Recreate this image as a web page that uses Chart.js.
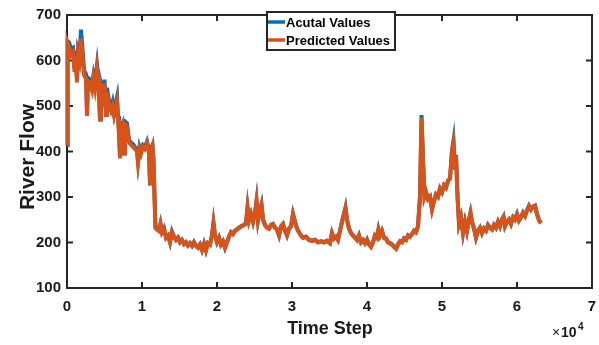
<!DOCTYPE html>
<html>
<head>
<meta charset="utf-8">
<script src="https://cdn.jsdelivr.net/npm/chart.js@4.4.0/dist/chart.umd.min.js"></script>
<style>
	html,body{margin:0;padding:0;background:#fff;}
	canvas{display:block;}
</style>
</head>
<body>
<canvas id="mycanvas" width="599" height="345"></canvas>
<script>
// time step of each reading (axis shows it in units of 10^4)
var timeStep=[
	0,80,270,530,800,1000,1130,1330,1470,1670,
	1870,2070,2270,2530,2670,2800,3070,3330,3530,3730,
	4000,4200,4400,4530,4800,5000,5200,5330,5600,5870,
	6070,6270,6470,6670,6800,6930,7070,7200,7400,7600,
	7730,8000,8270,8530,8800,9070,9330,9470,9670,9870,
	10130,10400,10670,10930,11070,11200,11400,11530,11670,11800,
	12000,12270,12470,12670,12930,13200,13470,13730,14000,14270,
	14530,14800,15070,15330,15600,15870,16130,16400,16670,16930,
	17200,17470,17730,18000,18270,18530,18800,19070,19330,19530,
	19730,20000,20270,20530,20800,21070,21330,21600,21870,22130,
	22400,22800,23200,23600,23870,24070,24270,24530,24800,25070,
	25270,25470,25730,25930,26130,26400,26670,26930,27200,27470,
	27730,28000,28270,28530,28800,29070,29330,29600,29870,30130,
	30400,30670,30930,31200,31470,31870,32270,32670,33070,33470,
	33870,34270,34670,35070,35330,35600,35870,36130,36400,36670,
	36930,37130,37330,37600,37870,38130,38400,38670,38930,39200,
	39470,39730,40000,40270,40530,40800,41070,41330,41530,41730,
	42000,42270,42530,42800,43070,43330,43600,43870,44130,44400,
	44670,44930,45200,45470,45730,46000,46270,46530,46800,47070,
	47270,47470,47670,47870,48130,48400,48670,48930,49200,49470,
	49730,50000,50270,50530,50800,51070,51330,51530,51730,51870,
	52070,52270,52530,52800,53070,53330,53600,53800,54000,54270,
	54530,54800,55070,55330,55600,55870,56130,56400,56670,56930,
	57200,57470,57730,58000,58200,58400,58670,58930,59200,59470,
	59730,60000,60270,60530,60800,61070,61330,61600,61870,62130,
	62400,62670,62930,63200
];
var actualValues=[
	415,642,640,625,628,585,622,560,625,615,
	668,625,578,570,485,562,558,545,568,550,
	590,555,475,548,528,558,485,540,512,495,
	508,485,505,520,478,448,390,455,462,400,
	466,462,425,420,416,410,405,380,410,400,
	414,410,422,404,330,405,414,385,302,234,
	230,227,242,224,232,212,216,201,224,213,
	206,211,201,206,197,201,194,199,193,201,
	193,189,196,184,198,183,199,196,216,244,
	216,201,211,196,203,189,201,213,223,219,
	226,231,236,239,243,278,249,263,246,266,
	292,249,271,284,251,239,233,231,239,241,
	233,229,216,236,241,226,216,231,236,263,
	246,231,223,216,211,213,206,204,206,201,
	203,201,204,199,221,209,213,206,226,246,
	263,277,251,231,221,216,211,206,216,201,
	206,199,207,196,191,201,216,211,229,216,
	226,211,209,201,199,196,191,187,196,203,
	201,209,206,216,213,219,226,223,236,302,
	480,382,302,311,296,301,273,291,306,301,
	319,311,326,321,336,341,402,424,362,392,
	301,241,256,221,246,226,251,266,246,231,
	211,226,233,221,231,226,239,233,229,239,
	233,246,236,251,257,236,246,251,241,256,
	251,263,249,256,266,259,271,281,273,279,
	281,263,249,243
];
var predictedValues=[
	415,638,628,612,618,575,610,552,615,600,
	648,610,568,560,478,555,550,535,560,540,
	580,545,470,540,520,550,480,530,505,490,
	500,480,495,510,470,440,385,445,455,395,
	460,455,420,415,410,405,400,375,405,395,
	410,405,418,400,325,400,410,380,300,232,
	228,225,240,222,230,210,215,200,222,212,
	205,210,200,205,196,200,193,198,192,200,
	192,188,195,183,197,182,198,195,215,242,
	215,200,210,195,202,188,200,212,222,218,
	225,230,235,238,242,276,248,262,245,265,
	290,248,270,282,250,238,232,230,238,240,
	232,228,215,235,240,225,215,230,235,262,
	245,230,222,215,210,212,205,203,205,200,
	202,200,203,198,220,208,212,205,225,245,
	262,275,250,230,220,215,210,205,215,200,
	205,198,206,195,190,200,215,210,228,215,
	225,210,208,200,198,195,190,186,195,202,
	200,208,205,215,212,218,225,222,235,300,
	474,380,300,310,295,300,272,290,305,300,
	318,310,325,320,335,340,400,418,360,390,
	300,240,255,220,245,225,250,265,245,230,
	210,225,232,220,230,225,238,232,228,238,
	232,245,235,250,256,235,245,250,240,255,
	250,262,248,255,265,258,270,280,272,278,
	280,262,248,242
];
var seriesNames=['Acutal Values','Predicted Values'];
var seriesColors=['#0072BD','#D95319'];

var fontFam='"Liberation Sans", Arial, sans-serif';
var axisColor='#262626';

function toPoints(vals){
	var pts=[];
	for(var i in timeStep){
		pts.push({x:timeStep[i],y:vals[i]});
	}
	return pts;
}

// matlab style box, inward ticks, legend box and titles
var matlabFrame={
	id:'matlabFrame',
	beforeDatasetsDraw:function(chart){
		var ctx=chart.ctx, a=chart.chartArea;
		var xs=chart.scales.x, ys=chart.scales.y;
		ctx.save();
		ctx.strokeStyle=axisColor;
		ctx.lineWidth=2;
		ctx.strokeRect(a.left,a.top,a.right-a.left,a.bottom-a.top);
		ctx.beginPath();
		xs.ticks.forEach(function(t){
			var px=xs.getPixelForValue(t.value);
			ctx.moveTo(px,a.bottom); ctx.lineTo(px,a.bottom-6);
			ctx.moveTo(px,a.top); ctx.lineTo(px,a.top+6);
		});
		ys.ticks.forEach(function(t){
			var py=ys.getPixelForValue(t.value);
			ctx.moveTo(a.left,py); ctx.lineTo(a.left+6,py);
			ctx.moveTo(a.right,py); ctx.lineTo(a.right-6,py);
		});
		ctx.stroke();
		ctx.restore();
	},
	afterDatasetsDraw:function(chart){
		var ctx=chart.ctx;
		ctx.save();
		// legend
		ctx.fillStyle='#fff';
		ctx.fillRect(267,12,128,38);
		ctx.strokeStyle=axisColor;
		ctx.lineWidth=2;
		ctx.strokeRect(267,12,128,38);
		var rows=[22,40];
		ctx.font='bold 13px '+fontFam;
		ctx.textBaseline='middle';
		ctx.textAlign='left';
		for(var i=0;i<2;i++){
			ctx.strokeStyle=seriesColors[i];
			ctx.lineWidth=3.5;
			ctx.beginPath();
			ctx.moveTo(268,rows[i]);
			ctx.lineTo(285,rows[i]);
			ctx.stroke();
			ctx.fillStyle='#000';
			ctx.fillText(seriesNames[i],286,rows[i]+1);
		}
		ctx.restore();
	},
	afterDraw:function(chart){
		var ctx=chart.ctx;
		ctx.save();
		ctx.fillStyle='#1a1a1a';
		ctx.textBaseline='alphabetic';
		ctx.textAlign='center';
		ctx.font='bold 18px '+fontFam;
		ctx.fillText('Time Step',330,334);
		ctx.save();
		ctx.translate(34,157);
		ctx.rotate(-Math.PI/2);
		ctx.font='bold 21px '+fontFam;
		ctx.fillText('River Flow',0,0);
		ctx.restore();
		ctx.textAlign='left';
		ctx.font='14px '+fontFam;
		ctx.fillText('\u00d7',552,337);
		ctx.font='bold 14px '+fontFam;
		ctx.fillText('10',561,337);
		ctx.font='bold 10px '+fontFam;
		ctx.fillText('4',578,330);
		ctx.restore();
	}
};

var ctx=document.getElementById('mycanvas');

var riverChart=new Chart(ctx,{
	type:'line',
	data:{
		datasets:[
			{
				label:seriesNames[0],
				data:toPoints(actualValues),
				borderColor:seriesColors[0],
				borderWidth:4,
				pointRadius:0,
				tension:0,
				clip:false,
				order:2
			},
			{
				label:seriesNames[1],
				data:toPoints(predictedValues),
				borderColor:seriesColors[1],
				borderWidth:4,
				pointRadius:0,
				tension:0,
				clip:false,
				order:1
			}
		]
	},
	options:{
		responsive:false,
		animation:false,
		devicePixelRatio:1,
		layout:{padding:{left:0,right:0,top:12,bottom:0}},
		plugins:{
			legend:{display:false},
			tooltip:{enabled:false}
		},
		scales:{
			x:{
				type:'linear',
				min:0,
				max:70000,
				grid:{display:false,drawTicks:false,tickLength:0},
				border:{display:false},
				ticks:{
					stepSize:10000,
					padding:10,
					color:'#1a1a1a',
					maxRotation:0,
					font:{family:fontFam,size:15,weight:'bold'},
					callback:function(v){return v/10000;}
				},
				afterFit:function(s){
					s.height=57;
					s.paddingLeft=0;
					s.paddingRight=7;
				}
			},
			y:{
				min:100,
				max:700,
				grid:{display:false,drawTicks:false,tickLength:0},
				border:{display:false},
				ticks:{
					stepSize:100,
					padding:6,
					color:'#1a1a1a',
					font:{family:fontFam,size:15,weight:'bold'}
				},
				afterFit:function(s){s.width=67;}
			}
		}
	},
	plugins:[matlabFrame]
});
</script>
</body>
</html>
